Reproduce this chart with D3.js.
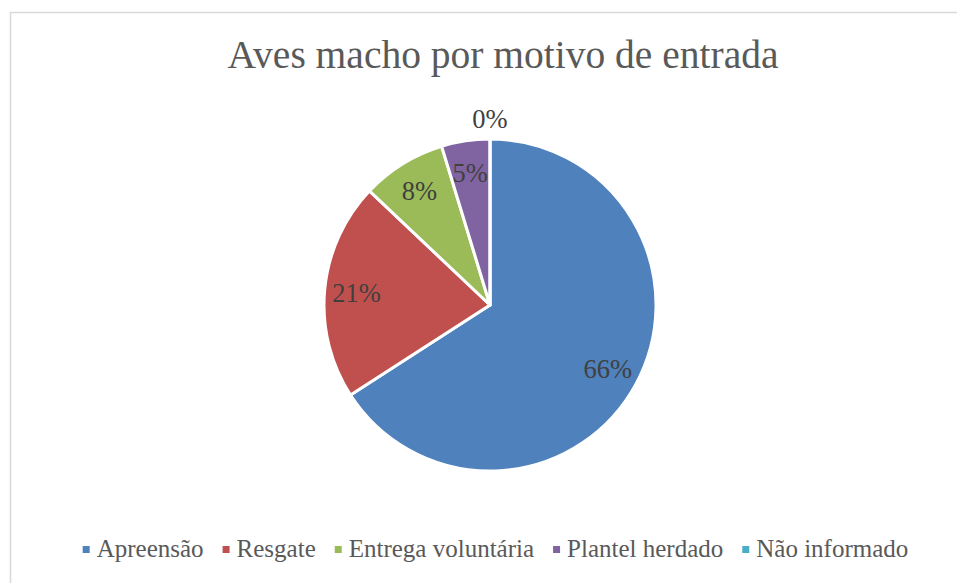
<!DOCTYPE html>
<html>
<head>
<meta charset="utf-8">
<script src="https://cdn.jsdelivr.net/npm/d3@7"></script>
<style>
  html, body { margin: 0; padding: 0; background: #fff; }
  svg { display: block; }
</style>
</head>
<body>
<svg id="chart" width="957" height="583"></svg>
<script>
const title = "Aves macho por motivo de entrada";
const categories = ["Apreensão", "Resgate", "Entrega voluntária", "Plantel herdado", "Não informado"];
const values = [56, 18, 7, 4, 0];
const colors = ["#4F81BD", "#C0504D", "#9BBB59", "#8064A2", "#4BACC6"];

const W = 957, H = 583;
const FONT = "'Liberation Serif', 'DejaVu Serif', serif";
const svg = d3.select("#chart");

// chart border
svg.append("rect")
  .attr("x", 10.5).attr("y", 12.5)
  .attr("width", W).attr("height", H)
  .attr("fill", "#fff").attr("stroke", "#d9d9d9").attr("stroke-width", 1.5);

// title
svg.append("text")
  .attr("x", 503).attr("y", 68)
  .attr("text-anchor", "middle")
  .attr("font-family", FONT).attr("font-size", 39.5)
  .attr("fill", "#595959")
  .text(title);

const cx = 490, cy = 305, R = 166;
const data = categories.map((c, i) => ({ name: c, value: values[i], color: colors[i] }));
const total = d3.sum(values);
const pie = d3.pie().value(d => d.value).sort(null);
const arcs = pie(data);
const arc = d3.arc().innerRadius(0).outerRadius(R);
const labelArc = d3.arc().innerRadius(134).outerRadius(134);
const outArc = d3.arc().innerRadius(R + 20).outerRadius(R + 20);

const g = svg.append("g").attr("transform", `translate(${cx},${cy})`);
g.selectAll("path.slice").data(arcs).join("path")
  .attr("class", "slice")
  .attr("d", arc)
  .attr("fill", d => d.data.color)
  .attr("stroke", "#fff").attr("stroke-width", 3)
  .attr("stroke-linejoin", "round");

const fmt = v => Math.round(v / total * 100) + "%";
g.selectAll("text.lbl").data(arcs).join("text")
  .attr("class", "lbl")
  .attr("transform", d => {
    const p = d.value > 0 ? labelArc.centroid(d) : outArc.centroid(d);
    return `translate(${p[0]},${p[1]})`;
  })
  .attr("text-anchor", "middle")
  .attr("dy", "0.35em")
  .attr("font-family", FONT).attr("font-size", 26.5)
  .attr("fill", "#404040")
  .text(d => fmt(d.value));

// legend
const leg = svg.append("g");
const legY = 557;
const items = leg.selectAll("g.item").data(data).join("g").attr("class", "item");
items.append("rect")
  .attr("width", 7).attr("height", 7)
  .attr("y", legY - 11)
  .attr("fill", d => d.color);
items.append("text")
  .attr("x", 14).attr("y", legY)
  .attr("font-family", FONT).attr("font-size", 25)
  .attr("fill", "#595959")
  .text(d => d.name);
let x = 0;
const gap = 19;
items.each(function() {
  const t = d3.select(this).select("text").node().getComputedTextLength();
  d3.select(this).attr("transform", `translate(${x},0)`);
  x += 14 + t + gap;
});
const totalW = x - gap;
leg.attr("transform", `translate(${(75 + 916) / 2 - totalW / 2},0)`);
</script>
</body>
</html>
